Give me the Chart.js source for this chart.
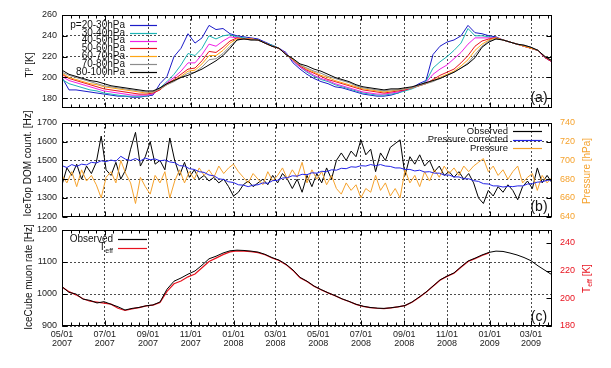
<!DOCTYPE html>
<html>
<head>
<meta charset="utf-8">
<script src="https://cdn.jsdelivr.net/npm/chart.js@4.4.1/dist/chart.umd.min.js"></script>
<style>
  html, body { margin:0; padding:0; background:#fff; }
  #wrap { position:relative; width:611px; height:368px; overflow:hidden; }
  #wrap canvas { position:absolute; left:0; }
</style>
</head>
<body>
<div id="wrap">
  <canvas id="panelA" width="611" height="118" style="top:0px"></canvas>
  <canvas id="panelB" width="611" height="130" style="top:100px"></canvas>
  <canvas id="panelC" width="611" height="153" style="top:215px"></canvas>
</div>
<script>
// days since 2007-05-01
const DAYS_10 = [0,10,20,30,40,50,60,70,80,90,100,110,120,130,140,150,160,170,180,190,
  200,210,220,230,240,250,260,270,280,290,300,310,320,330,340,350,360,370,380,390,
  400,410,420,430,440,450,460,470,480,490,500,510,520,530,540,550,560,570,580,590,
  600,610,620,630,640,650,660,670,680,690,700];
const DAYS_7 = [0,7,14,21,28,35,42,49,56,63,70,77,84,91,98,105,112,119,126,133,
  140,147,154,161,168,175,182,189,196,203,210,217,224,231,238,245,252,259,266,273,
  280,287,294,301,308,315,322,329,336,343,350,357,364,371,378,385,392,399,406,413,
  420,427,434,441,448,455,462,469,476,483,490,497,504,511,518,525,532,539,546,553,
  560,567,574,581,588,595,602,609,616,623,630,637,644,651,658,665,672,679,686,693,700];

const TICK_DAYS = [0,61,123,184,245,305,366,427,489,550,611,670];
const TICK_LABELS = [["05/01","2007"],["07/01","2007"],["09/01","2007"],["11/01","2007"],
  ["01/01","2008"],["03/01","2008"],["05/01","2008"],["07/01","2008"],["09/01","2008"],
  ["11/01","2008"],["01/01","2009"],["03/01","2009"]];

// (a) stratospheric temperature [K]
const T_20_30 = [200,188,188,187,186,185,184,183,182,182, 181,181,182,183,194,201,220,228,242,233,
  238,250,246,247,242,240,239,238,237,234, 231,228,224,214,208,203,199,196,194,191,
  190,188,186,184,183,182,182,183,185,188, 190,194,197,222,230,234,236,240,250,243,
  242,240,239,236,234,232,230,228,226,219, 215];
const T_30_40 = [198,194,192,190,188,187,185,184,183,182, 182,182,182,184,190,196,203,212,223,221,
  228,240,237,240,241,239,238,237,236,233, 231,228,223,216,210,205,201,198,196,193,
  191,189,187,185,184,183,183,184,185,187, 189,192,196,209,215,220,226,233,247,240,
  240,239,238,236,234,232,230,228,226,219, 215];
const T_40_50 = [201,197,195,193,191,189,187,186,185,184, 183,183,183,184,189,195,200,206,214,214,
  222,232,230,235,239,238,237,237,236,233, 230,228,223,216,210,206,202,199,197,194,
  192,190,188,186,185,184,184,185,186,188, 190,192,195,203,208,212,218,224,232,238,
  238,238,238,236,234,232,230,228,226,219, 215];
const T_50_60 = [203,199,197,195,193,191,189,188,187,186, 185,184,184,185,188,194,198,203,208,209,
  216,225,224,229,235,238,237,237,236,233, 230,228,222,217,211,207,204,201,198,196,
  194,192,190,188,187,186,185,186,187,188, 190,192,194,198,202,205,208,214,221,230,
  235,237,238,236,234,232,230,228,226,219, 215];
const T_60_70 = [204,200,198,196,194,193,191,190,189,188, 187,186,185,186,189,193,197,201,206,207,
  213,221,221,226,233,237,237,237,236,233, 230,228,222,217,212,208,205,202,200,197,
  195,193,191,189,188,187,186,187,188,189, 190,192,194,197,200,203,206,211,217,226,
  232,236,238,236,234,232,230,228,226,220, 216];
const T_70_80 = [205,202,200,198,196,194,192,191,190,189, 188,187,186,186,189,193,196,200,204,205,
  210,217,218,223,230,236,237,236,236,233, 230,228,222,218,212,209,206,204,201,199,
  197,195,192,190,189,188,187,188,188,189, 190,192,194,196,199,202,205,209,214,222,
  230,235,237,236,234,232,231,229,226,220, 216];
const T_80_100 = [207,203,201,199,197,196,194,192,191,190, 189,188,187,187,190,194,197,200,202,205,
  208,212,216,221,228,236,237,236,236,233, 230,228,222,218,213,211,208,206,203,200,
  198,196,193,191,190,189,188,189,189,190, 191,193,195,197,199,202,205,209,213,219,
  229,234,237,236,234,232,231,229,226,220, 216];

// (b) IceTop DOM rate [Hz] and pressure [hPa]
const DOM_OBSERVED = [1370,1460,1420,1480,1400,1470,1430,1490,1630,1450, 1420,1490,1400,1450,1560,1650,1470,1520,1600,1480,
  1500,1450,1620,1500,1420,1490,1410,1450,1400,1420, 1390,1410,1380,1400,1360,1310,1330,1370,1390,1360,
  1380,1400,1370,1420,1380,1430,1400,1350,1400,1330, 1420,1360,1430,1380,1460,1400,1500,1540,1500,1550,
  1520,1610,1530,1560,1440,1540,1500,1570,1590,1610, 1420,1520,1480,1530,1470,1500,1440,1470,1420,1440,
  1410,1440,1400,1430,1380,1300,1270,1340,1310,1360, 1330,1370,1340,1290,1360,1390,1350,1460,1380,1420, 1380];
const DOM_CORRECTED = [1472,1462,1478,1468,1480,1476,1490,1486,1498,1494, 1502,1496,1522,1506,1500,1510,1498,1512,1504,1508,
  1498,1502,1492,1488,1472,1470,1456,1452,1440,1436, 1422,1418,1402,1398,1386,1382,1370,1368,1360,1368,
  1370,1380,1378,1392,1394,1406,1408,1418,1416,1426, 1424,1434,1432,1442,1440,1450,1448,1458,1456,1466,
  1464,1472,1470,1478,1472,1478,1470,1468,1460,1460, 1452,1452,1444,1448,1438,1440,1432,1432,1422,1422,
  1412,1412,1402,1402,1392,1388,1376,1374,1364,1364, 1358,1362,1360,1364,1364,1374,1376,1384,1386,1394, 1396];
const PRESSURE = [684,676,688,672,690,678,684,674,660,682, 688,676,700,686,676,654,682,672,664,684,
  676,688,660,678,690,676,688,680,692,684, 690,682,694,686,692,696,688,682,676,686,
  680,674,688,678,684,692,680,690,682,698, 676,690,680,688,674,684,670,664,676,668,
  674,660,670,666,684,668,676,662,670,660, 690,676,684,672,688,678,690,682,694,686,
  692,684,694,688,694,698,702,688,694,684, 690,680,688,694,676,682,686,668,684,676, 682];

// (c) IceCube muon rate [Hz] and effective temperature [K]
const MUON_OBSERVED = [1023,1005,1000,984,980,972,976,968,960,950, 955,958,963,966,975,1015,1040,1050,1062,1072,
  1090,1110,1118,1128,1135,1137,1136,1134,1131,1124, 1114,1106,1093,1075,1052,1040,1025,1014,1004,995,
  985,977,968,962,958,956,955,957,960,964, 975,990,1006,1025,1044,1056,1066,1085,1103,1112,
  1122,1130,1134,1133,1128,1122,1114,1104,1088,1074, 1060];
const T_EFF = [208.2,204.8,202.5,199.7,197.9,197.2,196.5,195.8,192.8,191.2, 192.4,193.3,194.5,195.1,197.0,205.0,210.5,212.5,215.5,217.5,
  222.0,226.5,229.0,231.5,233.5,234.2,234.1,233.7,233.0,231.4, 229.1,227.3,224.3,220.1,214.9,212.1,208.7,206.2,203.9,201.8,
  199.5,197.7,195.6,194.2,193.3,192.8,192.6,193.1,193.8,194.7, 197.2,200.6,204.3,208.7,213.0,215.8,218.1,222.4,226.6,228.6,
  230.9,232.8];

const FONT = "'Liberation Sans', Arial, sans-serif";
const GRID = "rgba(0,0,0,0.7)";
const TXT = "#222";

function richParts(text){
  const m = text.match(/([_^])(\w+)/);
  if (!m) return [{ t:text, s:0 }];
  return [{ t:text.slice(0, m.index), s:0 }, { t:m[2], s: m[1] === "_" ? 1 : -1 }, { t:text.slice(m.index + m[0].length), s:0 }];
}

function drawRich(ctx, text, x, y, size, align){
  const parts = richParts(text);
  let w = 0;
  for (const p of parts){ ctx.font = `${p.s ? size*0.7 : size}px ${FONT}`; p.w = ctx.measureText(p.t).width; w += p.w; }
  let cx = align === "right" ? x - w : align === "center" ? x - w/2 : x;
  ctx.textAlign = "left"; ctx.textBaseline = "middle";
  for (const p of parts){
    ctx.font = `${p.s ? size*0.7 : size}px ${FONT}`;
    ctx.fillText(p.t, cx, y + p.s*size*0.3);
    cx += p.w;
  }
}

// gnuplot-like frame: solid border, inward ticks, key, panel tag, axis titles
const gnuFrame = {
  id: "gnuFrame",
  afterDatasetsDraw(chart, args, o){
    const { ctx, chartArea: a, scales } = chart;
    const L = Math.round(a.left) + 0.5, R = Math.round(a.right) - 0.5;
    const T = Math.round(a.top) + 0.5, B = Math.round(a.bottom) - 0.5;
    ctx.save();
    ctx.strokeStyle = "#000"; ctx.lineWidth = 1;
    ctx.strokeRect(L, T, R - L, B - T);
    ctx.beginPath();
    const xs = scales.x;
    const major = xs.ticks.map(t => t.value);
    const xtick = (px, len) => { ctx.moveTo(px, B); ctx.lineTo(px, B - len); ctx.moveTo(px, T); ctx.lineTo(px, T + len); };
    major.forEach((v, i) => {
      xtick(Math.round(xs.getPixelForValue(v)) + 0.5, 5);
      const next = i < major.length - 1 ? major[i+1] : v + (v - major[i-1]);
      for (let k = 1; k < 5; k++){
        const mv = v + (next - v) * k / 5;
        if (mv < xs.max) xtick(Math.round(xs.getPixelForValue(mv)) + 0.5, 3);
      }
    });
    const yl = scales.y, yr = scales.y2;
    yl.ticks.forEach(t => {
      const py = Math.round(yl.getPixelForValue(t.value)) + 0.5;
      ctx.moveTo(L, py); ctx.lineTo(L + 5, py);
      if (!yr){ ctx.moveTo(R, py); ctx.lineTo(R - 5, py); }
    });
    if (yr) yr.ticks.forEach(t => {
      const py = Math.round(yr.getPixelForValue(t.value)) + 0.5;
      ctx.moveTo(R, py); ctx.lineTo(R - 5, py);
    });
    ctx.stroke();

    // key
    const k = o.key;
    chart.data.datasets.forEach((ds, i) => {
      const y = a.top + k.top + i * k.dy;
      ctx.fillStyle = "#111";
      drawRich(ctx, ds.label, k.right, y, k.size, "right");
      ctx.strokeStyle = ds.borderColor; ctx.lineWidth = 1.2;
      ctx.beginPath(); ctx.moveTo(k.from, Math.round(y) + 0.5); ctx.lineTo(k.to, Math.round(y) + 0.5); ctx.stroke();
    });

    // panel tag
    ctx.fillStyle = "#111";
    ctx.font = `14px ${FONT}`; ctx.textAlign = "center"; ctx.textBaseline = "middle";
    ctx.fillText(o.tag, a.right - 13, a.bottom - 9);

    // axis titles
    for (const t of o.titles){
      ctx.save();
      ctx.translate(t.x, t.y); ctx.rotate(-Math.PI/2);
      ctx.fillStyle = t.color;
      drawRich(ctx, t.text, 0, 0, 10, "center");
      ctx.restore();
    }
    ctx.restore();
  }
};

function series(label, xs, ys, color, order, axis, width){
  return {
    label, borderColor: color, backgroundColor: color, borderWidth: width || 1,
    pointRadius: 0, tension: 0, order, yAxisID: axis || "y",
    data: ys.map((y, i) => ({ x: xs[i], y }))
  };
}

function xScale(showLabels, height){
  return {
    type: "linear", min: 0, max: 700,
    afterBuildTicks: s => { s.ticks = TICK_DAYS.map(v => ({ value: v })); },
    afterFit: s => { s.height = height; },
    grid: { color: GRID, lineWidth: 1, drawTicks: false },
    border: { display: false, dash: [2, 2] },
    ticks: { display: showLabels, autoSkip: false, maxRotation: 0, minRotation: 0, padding: 4, color: TXT,
      font: { family: FONT, size: 9, lineHeight: 1 }, callback: (v, i) => TICK_LABELS[i] }
  };
}

function yScale(position, min, max, tickVals, width, color, grid){
  return {
    type: "linear", position, min, max,
    afterBuildTicks: s => { s.ticks = tickVals.map(v => ({ value: v })); },
    afterFit: s => { s.width = width; },
    grid: { color: GRID, lineWidth: 1, drawTicks: false, drawOnChartArea: grid },
    border: { display: false, dash: [2, 2] },
    ticks: { padding: position === "left" ? 5 : 8, color, font: { family: FONT, size: 9 }, callback: v => String(v) }
  };
}

const common = {
  responsive: false, animation: false, devicePixelRatio: 1,
  plugins: { legend: { display: false }, tooltip: { enabled: false } }
};

new Chart(document.getElementById("panelA"), {
  type: "line",
  data: { datasets: [
    series("p=20-30hPa", DAYS_10, T_20_30, "#1c1cc8", 6),
    series("30-40hPa", DAYS_10, T_30_40, "#1db4b4", 5),
    series("40-50hPa", DAYS_10, T_40_50, "#f01ee6", 4),
    series("50-60hPa", DAYS_10, T_50_60, "#e8141e", 3),
    series("60-70hPa", DAYS_10, T_60_70, "#ffa514", 2),
    series("70-80hPa", DAYS_10, T_70_80, "#8c8c8c", 1),
    series("80-100hPa", DAYS_10, T_80_100, "#000000", 0)
  ]},
  options: { ...common,
    layout: { padding: { top: 15, right: 59, left: 0, bottom: 0 } },
    scales: { x: xScale(false, 5), y: yScale("left", 171, 260, [180,200,220,240,260], 62, TXT, true) },
    plugins: { ...common.plugins, gnuFrame: {
      key: { right: 125, from: 130, to: 157, top: 10, dy: 7.8, size: 10 },
      tag: "(a)",
      titles: [{ text: "T^p [K]", x: 30, y: 65, color: "#111" }]
    }}
  },
  plugins: [gnuFrame]
});

new Chart(document.getElementById("panelB"), {
  type: "line",
  data: { datasets: [
    series("Observed", DAYS_7, DOM_OBSERVED, "#000000", 2),
    series("Pressure corrected", DAYS_7, DOM_CORRECTED, "#2323e6", 0),
    series("Pressure", DAYS_7, PRESSURE, "#f5a22d", 1, "y2")
  ]},
  options: { ...common,
    layout: { padding: { top: 23, right: 0, left: 0, bottom: 0 } },
    scales: {
      x: xScale(false, 11),
      y: yScale("left", 1200, 1700, [1200,1300,1400,1500,1600,1700], 62, TXT, true),
      y2: yScale("right", 640, 740, [640,660,680,700,720,740], 59, "#f5a22d", false)
    },
    plugins: { ...common.plugins, gnuFrame: {
      key: { right: 508, from: 513, to: 542, top: 8, dy: 8.7, size: 9.5 },
      tag: "(b)",
      titles: [
        { text: "IceTop DOM count. [Hz]", x: 28, y: 63.5, color: "#111" },
        { text: "Pressure [hPa]", x: 587, y: 71, color: "#f5a22d" }
      ]
    }}
  },
  plugins: [gnuFrame]
});

new Chart(document.getElementById("panelC"), {
  type: "line",
  data: { datasets: [
    series("Observed", DAYS_10, MUON_OBSERVED, "#000000", 0, "y", 1),
    series("T_eff", DAYS_10, T_EFF, "#e8121e", 1, "y2", 1.2)
  ]},
  options: { ...common,
    layout: { padding: { top: 15, right: 0, left: 0, bottom: 0 } },
    scales: {
      x: xScale(true, 42),
      y: yScale("left", 900, 1200, [900,1000,1100,1200], 62, TXT, true),
      y2: yScale("right", 180, 249.3, [180,200,220,240], 59, "#e8121e", false)
    },
    plugins: { ...common.plugins, gnuFrame: {
      key: { right: 113, from: 118, to: 147, top: 9, dy: 8.7, size: 10 },
      tag: "(c)",
      titles: [
        { text: "IceCube muon rate [Hz]", x: 29, y: 62, color: "#111" },
        { text: "T_eff [K]", x: 587, y: 63.5, color: "#e8121e" }
      ]
    }}
  },
  plugins: [gnuFrame]
});
</script>
</body>
</html>
